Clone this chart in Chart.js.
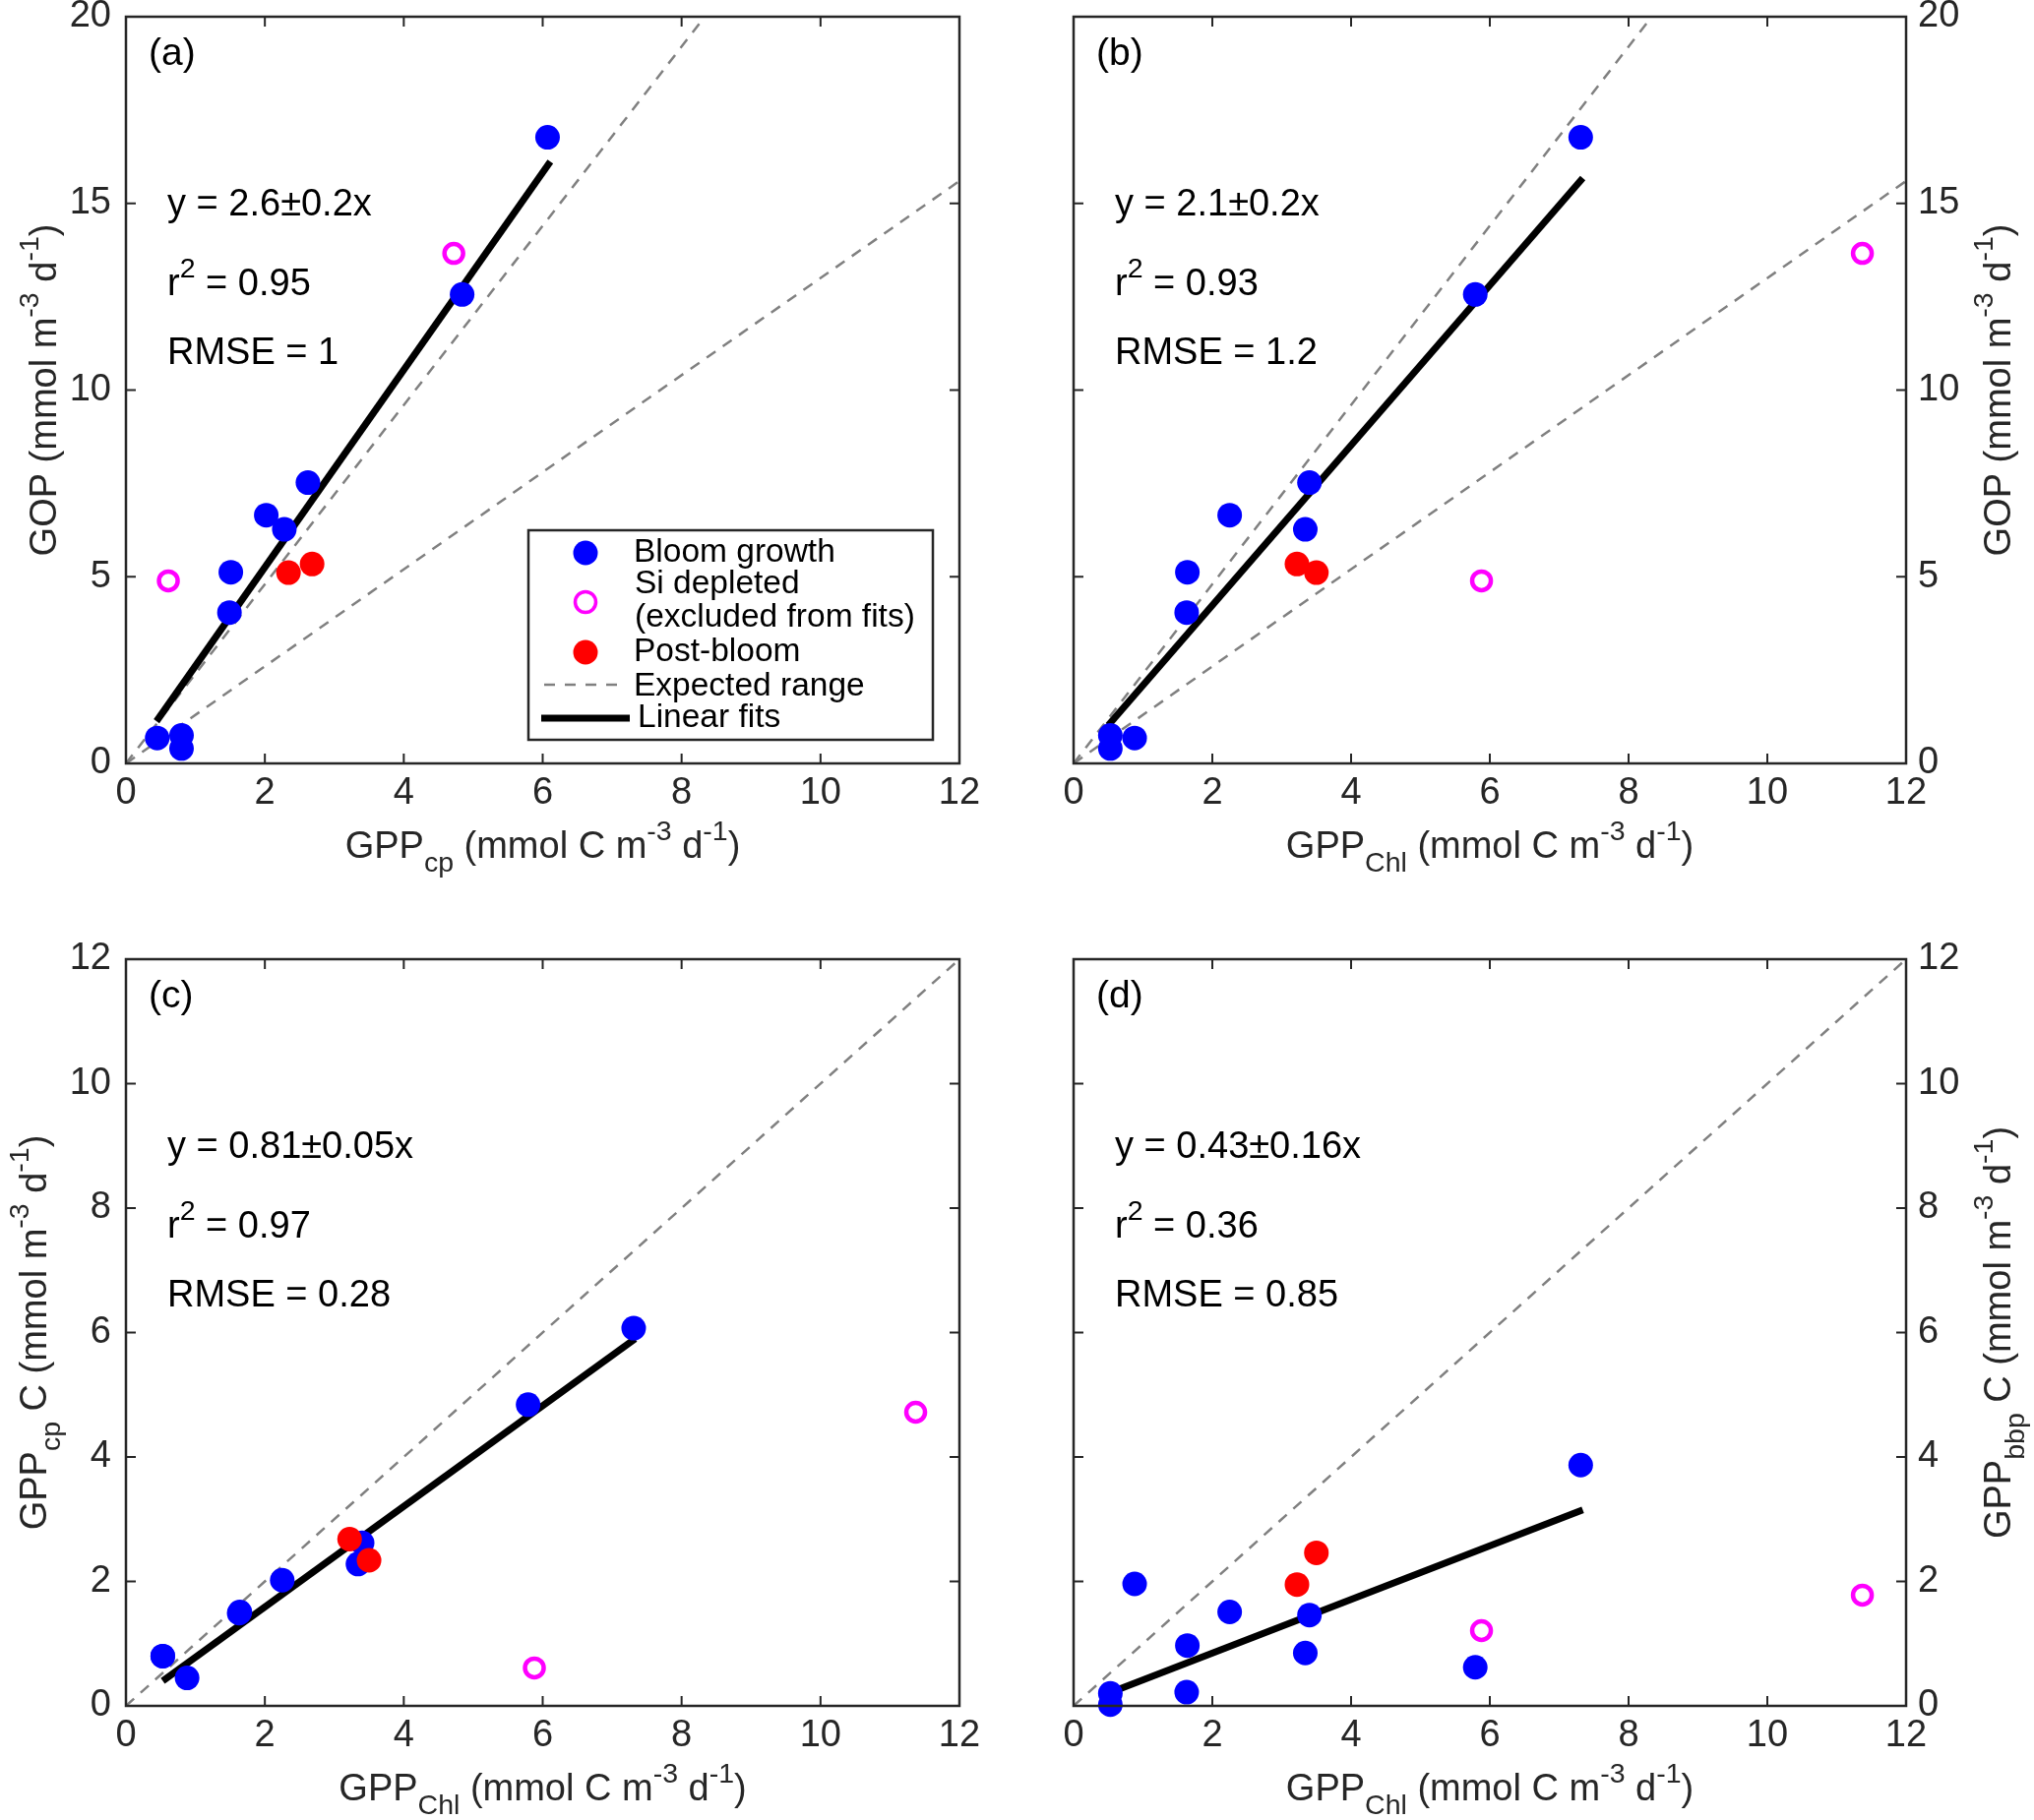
<!DOCTYPE html>
<html><head><meta charset="utf-8">
<script src="https://cdn.jsdelivr.net/npm/chart.js@4.4.1/dist/chart.umd.min.js"></script>
<style>
html,body{margin:0;padding:0;background:#fff;width:2067px;height:1850px;overflow:hidden;}
canvas{position:absolute;}
</style></head><body>
<canvas id="ca" width="1034" height="925" style="left:0px;top:0px;width:1034px;height:925px"></canvas>
<canvas id="cb" width="1033" height="925" style="left:1034px;top:0px;width:1033px;height:925px"></canvas>
<canvas id="cc" width="1034" height="925" style="left:0px;top:925px;width:1034px;height:925px"></canvas>
<canvas id="cd" width="1033" height="925" style="left:1034px;top:925px;width:1033px;height:925px"></canvas>
<script>
// ---------------- data ----------------
const xTicksGPP = [0, 2, 4, 6, 8, 10, 12];
const yTicksGOP = [0, 5, 10, 15, 20];
const yTicksC = [0, 2, 4, 6, 8, 10, 12];

// Bloom growth samples
const bloomGOP = [16.77, 12.56, 7.52, 6.65, 6.27, 5.12, 4.04, 0.75, 0.68, 0.40];
const bloomCp  = [6.07, 4.84, 2.62, 2.02, 2.28, 1.51, 1.49, 0.80, 0.45, 0.80];
const bloomChl = [7.31, 5.79, 3.40, 2.25, 3.34, 1.64, 1.63, 0.53, 0.88, 0.53];
const bloomBbp = [3.87, 0.62, 1.46, 1.51, 0.85, 0.97, 0.22, 0.20, 1.96, 0.02];
// Si depleted (excluded from fits)
const siGOP = [13.66, 4.89];
const siCp  = [4.72, 0.61];
const siChl = [11.37, 5.88];
const siBbp = [1.78, 1.21];
// Post-bloom
const pbGOP = [5.34, 5.11];
const pbCp  = [2.68, 2.34];
const pbChl = [3.22, 3.50];
const pbBbp = [1.95, 2.46];

// Linear fits (end points)
const fitA = [[0.44, 1.13], [6.11, 16.12]];
const fitB = [[0.50, 1.02], [7.34, 15.68]];
const fitC = [[0.53, 0.40], [7.33, 5.90]];
const fitD = [[0.50, 0.20], [7.34, 3.15]];
// Expected range slopes
const expectedGOP = [1.3, 2.4];
const expectedC = [1.0];

const panelLabels = ['(a)', '(b)', '(c)', '(d)'];
const fitEquations = ['y = 2.6\u00b10.2x', 'y = 2.1\u00b10.2x', 'y = 0.81\u00b10.05x', 'y = 0.43\u00b10.16x'];
const rSquared = ['0.95', '0.93', '0.97', '0.36'];
const rmseValues = ['1', '1.2', '0.28', '0.85'];
const xTitles = ['GPP_{cp} (mmol C m^{-3} d^{-1})', 'GPP_{Chl} (mmol C m^{-3} d^{-1})',
                 'GPP_{Chl} (mmol C m^{-3} d^{-1})', 'GPP_{Chl} (mmol C m^{-3} d^{-1})'];
const yTitles = ['GOP (mmol m^{-3} d^{-1})', 'GOP (mmol m^{-3} d^{-1})',
                 'GPP_{cp} C (mmol m^{-3} d^{-1})', 'GPP_{bbp} C (mmol m^{-3} d^{-1})'];
const legendLabels = ['Bloom growth', 'Si depleted', '(excluded from fits)', 'Post-bloom', 'Expected range', 'Linear fits'];

// ---------------- style ----------------
const FONT = "'Liberation Sans', Arial, Helvetica, sans-serif";
const AXIS = '#262626';
const BLUE = '#0000ff', RED = '#ff0000', MAGENTA = '#ff00ff', DASH = '#808080';
const SS = 0.75; // sub/superscript scale
function fnt(sz) { return sz + 'px ' + FONT; }

function parseRich(str) {
  const segs = []; const re = /([\^_])\{([^}]*)\}|([^\^_]+)/g; let m;
  while ((m = re.exec(str)) !== null) {
    if (m[1]) segs.push({ t: m[2], k: m[1] === '^' ? 'sup' : 'sub' });
    else segs.push({ t: m[3], k: null });
  }
  return segs;
}
function richWidth(ctx, segs, fs) {
  let w = 0;
  segs.forEach(s => { ctx.font = fnt(s.k ? fs * SS : fs); w += ctx.measureText(s.t).width; });
  return w;
}
function drawRich(ctx, str, x, y, fs, align) {
  const segs = parseRich(str);
  const w = richWidth(ctx, segs, fs);
  let cx = align === 'center' ? x - w / 2 : x;
  ctx.textAlign = 'left'; ctx.textBaseline = 'alphabetic';
  segs.forEach(s => {
    const f = s.k ? fs * SS : fs;
    ctx.font = fnt(f);
    const dy = s.k === 'sup' ? -0.48 * fs : (s.k === 'sub' ? 0.36 * fs : 0);
    ctx.fillText(s.t, cx, y + dy);
    cx += ctx.measureText(s.t).width;
  });
}

const TL = 10;
const framePlugin = {
  id: 'frame',
  afterDatasetsDraw(chart) {
    const { ctx, chartArea: a } = chart;
    const x = chart.scales.x, y = chart.scales.y;
    ctx.save();
    ctx.strokeStyle = AXIS; ctx.lineWidth = 2;
    ctx.beginPath();
    x.ticks.forEach(t => {
      const p = x.getPixelForValue(t.value);
      ctx.moveTo(p, a.bottom); ctx.lineTo(p, a.bottom - TL);
      ctx.moveTo(p, a.top); ctx.lineTo(p, a.top + TL);
    });
    y.ticks.forEach(t => {
      const p = y.getPixelForValue(t.value);
      ctx.moveTo(a.left, p); ctx.lineTo(a.left + TL, p);
      ctx.moveTo(a.right, p); ctx.lineTo(a.right - TL, p);
    });
    ctx.stroke();
    ctx.lineWidth = 2.5;
    ctx.strokeRect(a.left, a.top, a.right - a.left, a.bottom - a.top);
    ctx.restore();
  }
};

function makeTextPlugin(i, side, yTitleOffset, withLegend) {
  return {
    id: 'panelText' + i,
    afterDraw(chart) {
      const { ctx, chartArea: a } = chart;
      ctx.save();
      ctx.fillStyle = '#000';
      ctx.textAlign = 'left'; ctx.textBaseline = 'alphabetic';
      ctx.font = fnt(39);
      ctx.fillText(panelLabels[i], a.left + 23, a.top + 49);
      ctx.font = fnt(38);
      ctx.fillText(fitEquations[i], a.left + 42, a.top + 202);
      drawRich(ctx, 'r^{2} = ' + rSquared[i], a.left + 42, a.top + 283, 38, 'left');
      ctx.font = fnt(38);
      ctx.fillText('RMSE = ' + rmseValues[i], a.left + 42, a.top + 353);
      // axis titles
      ctx.fillStyle = AXIS;
      drawRich(ctx, xTitles[i], (a.left + a.right) / 2, a.bottom + 96, 38, 'center');
      const bx = side === 'left' ? a.left - yTitleOffset : a.right + yTitleOffset;
      ctx.save();
      ctx.translate(bx, (a.top + a.bottom) / 2);
      ctx.rotate(-Math.PI / 2);
      drawRich(ctx, yTitles[i], 0, 0, 38, 'center');
      ctx.restore();
      if (withLegend) {
        const L = a.left + 409, T = a.top + 522, W = 411, H = 213;
        ctx.fillStyle = '#fff';
        ctx.fillRect(L, T, W, H);
        ctx.strokeStyle = AXIS; ctx.lineWidth = 2.5;
        ctx.strokeRect(L, T, W, H);
        const mx = L + 58;
        ctx.fillStyle = BLUE; ctx.beginPath(); ctx.arc(mx, T + 23, 12.5, 0, 2 * Math.PI); ctx.fill();
        ctx.strokeStyle = MAGENTA; ctx.lineWidth = 3.5; ctx.beginPath(); ctx.arc(mx, T + 73, 10.5, 0, 2 * Math.PI); ctx.stroke();
        ctx.fillStyle = RED; ctx.beginPath(); ctx.arc(mx, T + 124, 12.5, 0, 2 * Math.PI); ctx.fill();
        ctx.strokeStyle = DASH; ctx.lineWidth = 2.5; ctx.setLineDash([11, 10]);
        ctx.beginPath(); ctx.moveTo(L + 16, T + 157); ctx.lineTo(L + 90, T + 157); ctx.stroke();
        ctx.setLineDash([]);
        ctx.strokeStyle = '#000'; ctx.lineWidth = 7;
        ctx.beginPath(); ctx.moveTo(L + 13, T + 191); ctx.lineTo(L + 103, T + 191); ctx.stroke();
        ctx.fillStyle = '#000'; ctx.font = fnt(33.5); ctx.textBaseline = 'middle'; ctx.textAlign = 'left';
        const tx = L + 107;
        ctx.fillText(legendLabels[0], tx, T + 23);
        ctx.fillText(legendLabels[1], tx + 1, T + 55);
        ctx.fillText(legendLabels[2], tx + 1, T + 89);
        ctx.fillText(legendLabels[3], tx, T + 124);
        ctx.fillText(legendLabels[4], tx, T + 159);
        ctx.fillText(legendLabels[5], tx + 4, T + 191);
      }
      ctx.restore();
    }
  };
}

function pts(xs, ys) { return xs.map((v, k) => ({ x: v, y: ys[k] })); }

function buildDatasets(bx, by, sx, sy, px, py, fit, slopes, xmax) {
  const ds = [];
  slopes.forEach(s => {
    ds.push({ data: [{ x: 0, y: 0 }, { x: xmax, y: s * xmax }], showLine: true, pointRadius: 0,
      borderColor: DASH, borderWidth: 2.5, borderDash: [11, 9], fill: false, order: 10, clip: 0 });
  });
  ds.push({ data: fit.map(p => ({ x: p[0], y: p[1] })), showLine: true, pointRadius: 0,
    borderColor: '#000', borderWidth: 7, fill: false, order: 8, clip: 0 });
  ds.push({ data: pts(bx, by), pointRadius: 12.5, pointBackgroundColor: BLUE, pointBorderWidth: 0, order: 3, clip: false });
  ds.push({ data: pts(sx, sy), pointRadius: 9.5, pointBackgroundColor: 'rgba(0,0,0,0)', pointBorderColor: MAGENTA, pointBorderWidth: 4.5, order: 2, clip: false });
  ds.push({ data: pts(px, py), pointRadius: 12.5, pointBackgroundColor: RED, pointBorderWidth: 0, order: 1, clip: false });
  return ds;
}

function makeChart(id, i, datasets, yTicks, ymax, lay) {
  const tickFont = { family: FONT, size: 38 };
  new Chart(document.getElementById(id), {
    type: 'scatter',
    data: { datasets },
    options: {
      responsive: false, animation: false, devicePixelRatio: 1, events: [],
      layout: { padding: { left: lay.pl, right: lay.pr, top: lay.pt, bottom: 0 } },
      plugins: { legend: { display: false }, tooltip: { enabled: false } },
      scales: {
        x: {
          type: 'linear', min: 0, max: 12, position: 'bottom',
          grid: { display: false, drawTicks: false }, border: { display: false },
          ticks: { font: tickFont, color: AXIS, padding: 8, maxRotation: 0, autoSkip: false },
          afterBuildTicks: s => { s.ticks = xTicksGPP.map(v => ({ value: v })); },
          afterFit: s => { s.height = lay.xh; s.paddingLeft = 0; s.paddingRight = 0; }
        },
        y: {
          type: 'linear', min: 0, max: ymax, position: lay.side,
          grid: { display: false, drawTicks: false }, border: { display: false },
          ticks: { font: tickFont, color: AXIS, padding: lay.side === 'left' ? 15 : 12, autoSkip: false },
          afterBuildTicks: s => { s.ticks = yTicks.map(v => ({ value: v })); },
          afterFit: s => { s.width = lay.yw; s.paddingTop = 0; s.paddingBottom = 0; }
        }
      }
    },
    plugins: [framePlugin, makeTextPlugin(i, lay.side, lay.yto, i === 0)]
  });
}

makeChart('ca', 0, buildDatasets(bloomCp, bloomGOP, siCp, siGOP, pbCp, pbGOP, fitA, expectedGOP, 12), yTicksGOP, 20,
  { pl: 0, pr: 59, pt: 17, yw: 128, xh: 149, side: 'left', yto: 71 });
makeChart('cb', 1, buildDatasets(bloomChl, bloomGOP, siChl, siGOP, pbChl, pbGOP, fitB, expectedGOP, 12), yTicksGOP, 20,
  { pl: 57, pr: 0, pt: 17, yw: 130, xh: 149, side: 'right', yto: 106 });
makeChart('cc', 2, buildDatasets(bloomChl, bloomCp, siChl, siCp, pbChl, pbCp, fitC, expectedC, 12), yTicksC, 12,
  { pl: 0, pr: 59, pt: 50, yw: 128, xh: 116, side: 'left', yto: 81 });
makeChart('cd', 3, buildDatasets(bloomChl, bloomBbp, siChl, siBbp, pbChl, pbBbp, fitD, expectedC, 12), yTicksC, 12,
  { pl: 57, pr: 0, pt: 50, yw: 130, xh: 116, side: 'right', yto: 106 });
</script>
</body></html>
